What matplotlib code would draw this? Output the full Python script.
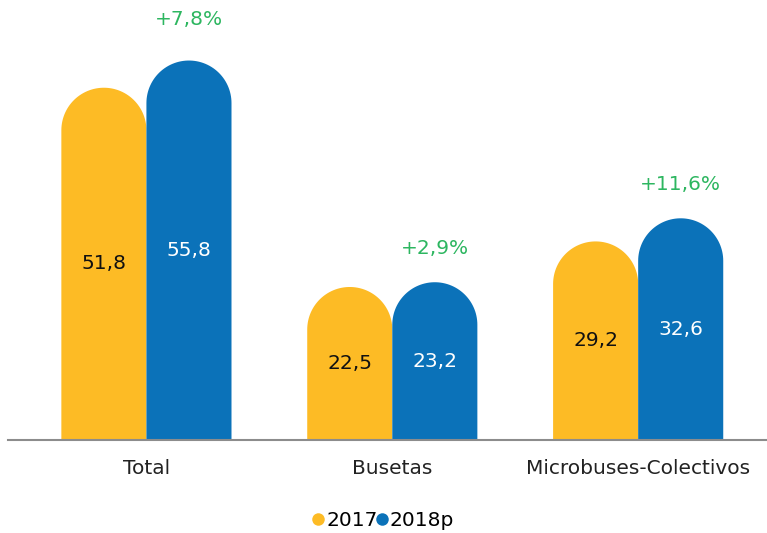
import numpy as np
import matplotlib
matplotlib.use("Agg")
import matplotlib.pyplot as plt
from matplotlib.path import Path
from matplotlib.patches import PathPatch
from matplotlib.lines import Line2D

plt.rcParams["font.family"] = ["DejaVu Sans"]

categories = ["Total", "Busetas", "Microbuses-Colectivos"]
series_names = ["2017", "2018p"]
values_2017 = [51.8, 22.5, 29.2]
values_2018 = [55.8, 23.2, 32.6]
changes = ["+7,8%", "+2,9%", "+11,6%"]

YELLOW = "#FDBB25"
BLUE = "#0B72B9"
GREEN = "#2DB660"

W, H, DPI = 767, 533, 100
fig = plt.figure(figsize=(W / DPI, H / DPI), dpi=DPI)
ax_left, ax_right, ax_bottom, ax_top = 8, 767, 440, 0
ax = fig.add_axes([ax_left / W, 1 - ax_bottom / H, (ax_right - ax_left) / W,
                   (ax_bottom - ax_top) / H])

xlim = (-0.563, 2.524)
ylim = (0, 64.7)
ax.set_xlim(*xlim)
ax.set_ylim(*ylim)
px_per_x = (ax_right - ax_left) / (xlim[1] - xlim[0])
px_per_y = (ax_bottom - ax_top) / (ylim[1] - ylim[0])

bar_w = 0.346


def rounded_bar(x0, width, height, color):
    # rectangle with a semicircular top (circle in pixel space)
    rx = width / 2
    ry = rx * px_per_x / px_per_y
    cx = x0 + rx
    body = max(height - ry, 0)
    t = np.linspace(np.pi, 0, 60)
    arc = np.column_stack([cx + rx * np.cos(t), body + ry * np.sin(t)])
    verts = np.vstack([[x0, 0], [x0, body], arc, [x0 + width, 0], [x0, 0]])
    codes = [Path.MOVETO] + [Path.LINETO] * (len(verts) - 2) + [Path.CLOSEPOLY]
    ax.add_patch(PathPatch(Path(verts, codes), facecolor=color, edgecolor="none"))


x = np.arange(len(categories))
for i in range(len(categories)):
    rounded_bar(x[i] - bar_w, bar_w, values_2017[i], YELLOW)
    rounded_bar(x[i], bar_w, values_2018[i], BLUE)
    ax.text(x[i] - bar_w / 2, values_2017[i] / 2, f"{values_2017[i]:.1f}".replace(".", ","),
            ha="center", va="center", fontsize=14.5, color="#111111")
    ax.text(x[i] + bar_w / 2, values_2018[i] / 2, f"{values_2018[i]:.1f}".replace(".", ","),
            ha="center", va="center", fontsize=14.5, color="white")

pct_offsets = [6.0, 4.9, 5.0]
for i in range(len(categories)):
    ax.text(x[i] + bar_w / 2, values_2018[i] + pct_offsets[i], changes[i],
            ha="center", va="center", fontsize=14.5, color=GREEN)

ax.axhline(0, color="#8c8c8c", linewidth=1.5, clip_on=False)
for s in ax.spines.values():
    s.set_visible(False)
ax.set_xticks(x)
ax.set_xticklabels(categories, fontsize=14.5, color="#222222")
ax.tick_params(axis="x", length=0, pad=14)
ax.set_yticks([])

handles = [Line2D([], [], marker="o", linestyle="none", markersize=9,
                  markerfacecolor=c, markeredgecolor="none")
           for c in (YELLOW, BLUE)]
fig.legend(handles, series_names, loc="center", bbox_to_anchor=(381 / W, 1 - 521 / H),
           ncol=2, frameon=False, fontsize=14.5, handletextpad=-0.1, columnspacing=-0.3,
           handlelength=1.0)

fig.savefig("out.png", dpi=DPI)
